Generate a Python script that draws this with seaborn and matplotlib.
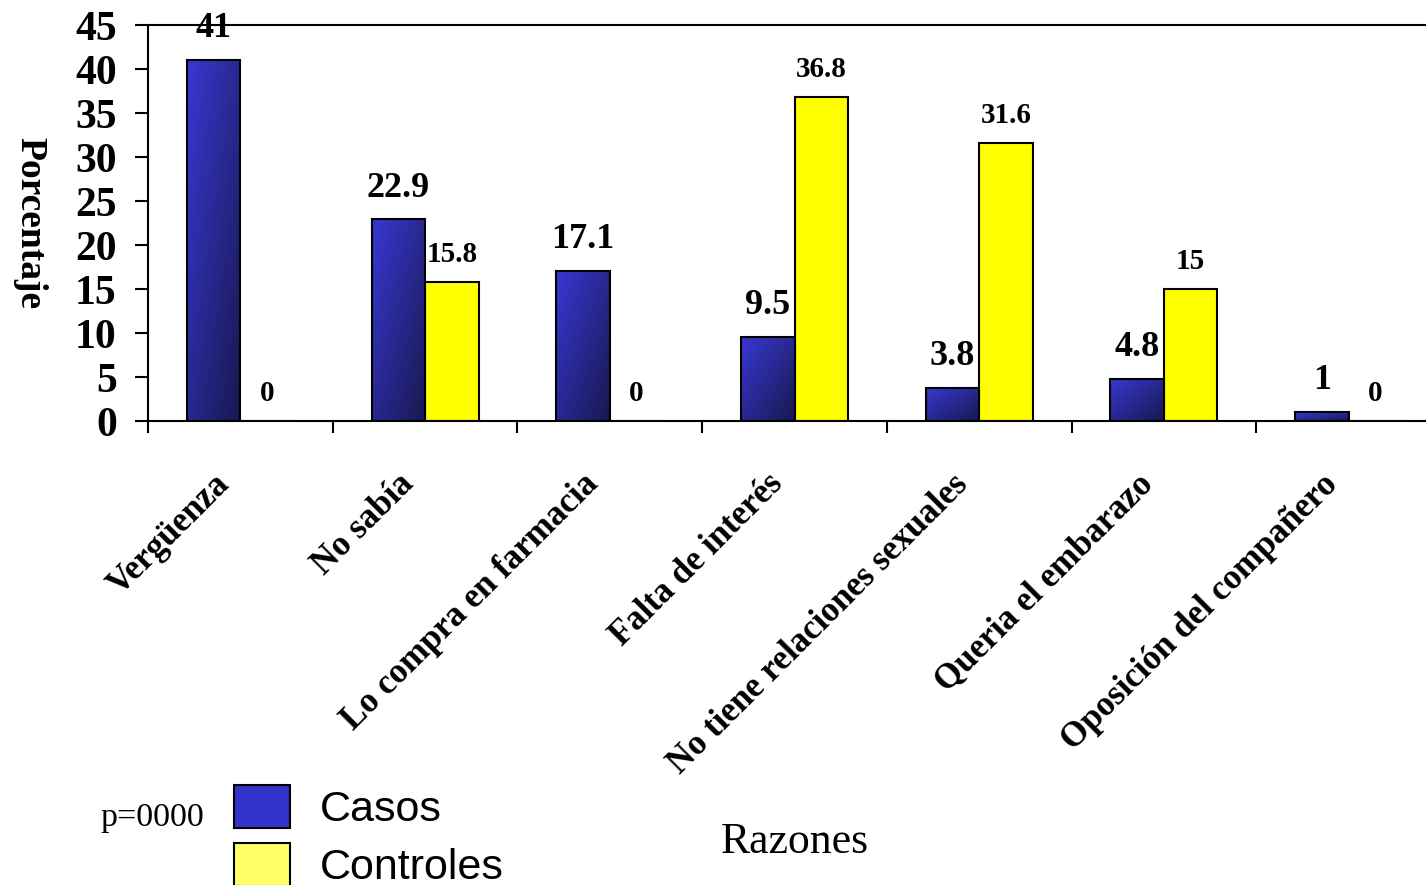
import numpy as np
import pandas as pd
import matplotlib
matplotlib.use("Agg")
import matplotlib.pyplot as plt
import seaborn as sns
from matplotlib.patches import Patch
from matplotlib.colors import to_rgb
from matplotlib.transforms import ScaledTranslation

# ---- data ----
razones = ["Vergüenza", "No sabía", "Lo compra en farmacia", "Falta de interés",
           "No tiene relaciones sexuales", "Queria el embarazo", "Oposición del compañero"]
casos = [41, 22.9, 17.1, 9.5, 3.8, 4.8, 1]
controles = [0, 15.8, 0, 36.8, 31.6, 15, 0]
grupos = ["Casos", "Controles"]
y_ticks = [0, 5, 10, 15, 20, 25, 30, 35, 40, 45]

df = pd.DataFrame({
    "Razón": razones * 2,
    "Porcentaje": casos + controles,
    "Grupo": [grupos[0]] * len(razones) + [grupos[1]] * len(razones),
})

sns.set_style("white")
plt.rcParams["font.family"] = ["Liberation Serif", "DejaVu Serif"]
plt.rcParams["text.color"] = "black"
plt.rcParams["axes.labelcolor"] = "black"
plt.rcParams["xtick.color"] = "black"
plt.rcParams["ytick.color"] = "black"

W, H = 1426, 885
fig = plt.figure(figsize=(W / 100, H / 100), dpi=100)
ax = fig.add_axes([148 / W, 1 - 421 / H, 1293 / W, 396 / H])

blue = "#3333CC"
yellow = "#FFFF00"
sns.barplot(data=df, x="Razón", y="Porcentaje", hue="Grupo", hue_order=grupos,
            palette=[blue, yellow], width=0.58, edgecolor="black", linewidth=1.5,
            saturation=1, legend=False, ax=ax)

ax.set_xlim(-0.5, 6.5)
ax.set_ylim(0, 45)

# gradient fill on Casos bars
light = np.array(to_rgb("#3838D2"))
dark = np.array(to_rgb("#181850"))
n = 64
u = np.linspace(0, 1, n)[None, :]
v = np.linspace(0, 1, n)[:, None]
t = (u + v) / 2  # row 0 = top (origin upper)
grad = light[None, None, :] * (1 - t[..., None]) + dark[None, None, :] * t[..., None]
for p in ax.containers[0]:
    x0, y0, w, h = p.get_x(), p.get_y(), p.get_width(), p.get_height()
    if h <= 0:
        continue
    im = ax.imshow(grad, extent=[x0, x0 + w, y0, y0 + h], origin="upper",
                   aspect="auto", zorder=p.get_zorder(), interpolation="bilinear")
    im.set_clip_path(p)
    p.set_facecolor("none")
    p.set_zorder(p.get_zorder() + 0.1)
ax.set_xlim(-0.5, 6.5)
ax.set_ylim(0, 45)

# value labels
for p, val in zip(ax.containers[0], casos):
    ax.annotate(f"{val:g}", (p.get_x() + p.get_width() / 2, val), xytext=(0, 16.5),
                textcoords="offset points", ha="center", va="baseline",
                fontsize=26, fontweight="bold", zorder=5)
for p, val in zip(ax.containers[1], controles):
    ax.annotate(f"{val:g}", (p.get_x() + p.get_width() / 2, val), xytext=(0, 14.5),
                textcoords="offset points", ha="center", va="baseline",
                fontsize=21, fontweight="bold", zorder=5)

# axes styling
for s in ["left", "bottom", "top"]:
    ax.spines[s].set_visible(True)
    ax.spines[s].set_linewidth(1.5)
    ax.spines[s].set_color("black")
ax.spines["right"].set_visible(False)

ax.set_yticks(y_ticks)
ax.set_yticklabels([str(v) for v in y_ticks], fontsize=30, fontweight="bold")
ax.tick_params(axis="y", direction="out", length=9.5, width=1.5, pad=13, left=True)

ax.set_xticks(np.arange(-0.5, 7.0, 1.0))
ax.set_xticklabels([])
ax.tick_params(axis="x", which="major", direction="out", length=8.5, width=1.5, bottom=True)
ax.set_xticks(range(len(razones)), minor=True)
ax.set_xticklabels(razones, minor=True, rotation=45, ha="right", va="center",
                   rotation_mode="anchor", fontsize=25, fontweight="bold")
ax.tick_params(axis="x", which="minor", length=0, pad=42, bottom=True)
for lab in ax.get_xticklabels(minor=True):
    lab.set_transform(lab.get_transform() + ScaledTranslation(-16 / 100, 0, fig.dpi_scale_trans))

ax.set_xlabel("")
ax.set_ylabel("Porcentaje", fontsize=27, fontweight="bold", rotation=270, va="center", ha="center")
ax.yaxis.set_label_coords((30 - 148) / 1293, 0.5)

fig.text(795 / W, 1 - 842 / H, "Razones", fontsize=31.5, ha="center", va="center")
fig.text(152 / W, 1 - 818 / H, "p=0000", fontsize=24.5, ha="center", va="center")

handles = [Patch(facecolor="#3333CC", edgecolor="black", linewidth=1.5),
           Patch(facecolor="#FFFF66", edgecolor="black", linewidth=1.5)]
fig.legend(handles, grupos, loc="upper left", bbox_to_anchor=(234 / W, 1 - 785 / H),
           frameon=False, borderpad=0, borderaxespad=0,
           handlelength=1.3, handleheight=1.15, handletextpad=0.7, labelspacing=0.3,
           prop={"family": "Liberation Sans", "size": 31})

fig.savefig("out.png", dpi=100)
